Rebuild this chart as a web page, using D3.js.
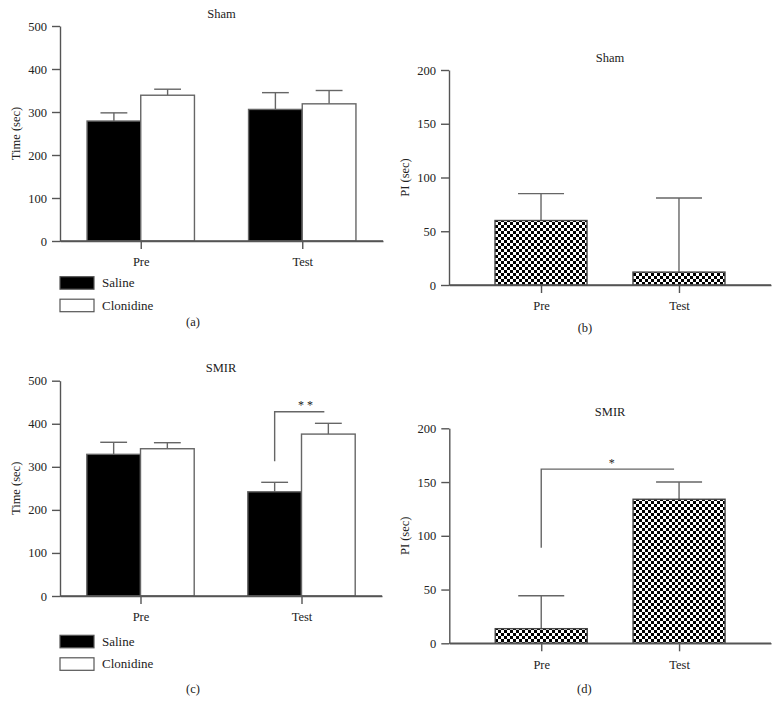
<!DOCTYPE html>
<html>
<head>
<meta charset="utf-8">
<script src="https://cdn.jsdelivr.net/npm/d3@7"></script>
<style>
  body { margin: 0; background: #fff; }
  svg { display: block; }
  text { font-family: "Liberation Serif", "DejaVu Serif", serif; fill: #222; }
</style>
</head>
<body>
<svg id="chart" width="780" height="715"></svg>
<script>
// ---- data ----
const groups = ["Pre", "Test"];
const series = ["Saline", "Clonidine"];
const timeTicks = [0, 100, 200, 300, 400, 500];
const piTicks = [0, 50, 100, 150, 200];

const shamSaline = [279, 306];
const shamSalineErr = [19, 39];
const shamClonidine = [339, 319];
const shamClonidineErr = [14, 31];

const smirSaline = [329, 242];
const smirSalineErr = [28, 22];
const smirClonidine = [342, 376];
const smirClonidineErr = [14, 25];

const shamPI = [60, 12];
const shamPIErr = [25, 69];
const smirPI = [13.6, 134];
const smirPIErr = [30.7, 16];

// ---- drawing ----
const svg = d3.select("#chart");
const defs = svg.append("defs");
const pat = defs.append("pattern").attr("id", "checker")
  .attr("patternUnits", "userSpaceOnUse").attr("width", 6).attr("height", 6);
pat.append("rect").attr("width", 6).attr("height", 6).attr("fill", "#fff");
pat.append("rect").attr("width", 3).attr("height", 3).attr("fill", "#000");
pat.append("rect").attr("x", 3).attr("y", 3).attr("width", 3).attr("height", 3).attr("fill", "#000");

const lineColor = "#555";
const fs = 12.5;

function axes(g, cfg, ticks, maxV) {
  const y = d3.scaleLinear().domain([0, maxV]).range([cfg.y0, cfg.y1]);
  const x = d3.scalePoint().domain(groups).range([cfg.x0, cfg.x1]).padding(cfg.pad);
  const ya = d3.axisLeft(y).tickValues(ticks).tickSize(8).tickSizeOuter(0).tickPadding(5);
  const yg = g.append("g").attr("transform", `translate(${cfg.x0},0)`).call(ya);
  const xa = d3.axisBottom(x).tickSize(8).tickSizeOuter(0).tickPadding(6);
  const xg = g.append("g").attr("transform", `translate(0,${cfg.y0})`).call(xa);
  [yg, xg].forEach(a => {
    a.select(".domain").attr("stroke", lineColor).attr("stroke-width", 1.4);
    a.selectAll(".tick line").attr("stroke", lineColor).attr("stroke-width", 1.4);
    a.selectAll(".tick text").attr("font-size", fs).attr("fill", "#222")
      .style("font-family", '"Liberation Serif", serif');
  });
  xg.selectAll(".tick text").attr("dy", "0.9em");
  g.append("text").attr("x", (cfg.x0 + cfg.x1) / 2).attr("y", cfg.titleY)
    .attr("text-anchor", "middle").attr("font-size", fs).text(cfg.title);
  g.append("text").attr("transform", `translate(${cfg.ylabX},${(cfg.y0 + cfg.y1) / 2}) rotate(-90)`)
    .attr("text-anchor", "middle").attr("font-size", fs).text(cfg.ylabel);
  g.append("text").attr("x", cfg.capX).attr("y", cfg.capY)
    .attr("text-anchor", "middle").attr("font-size", fs).text(cfg.caption);
  return { x, y };
}

function errBar(g, cx, vTop, vErr, capW, y) {
  g.append("line").attr("x1", cx).attr("x2", cx).attr("y1", y(vTop)).attr("y2", y(vTop + vErr))
    .attr("stroke", "#666").attr("stroke-width", 1.4);
  g.append("line").attr("x1", cx - capW / 2).attr("x2", cx + capW / 2)
    .attr("y1", y(vTop + vErr)).attr("y2", y(vTop + vErr))
    .attr("stroke", "#666").attr("stroke-width", 1.4);
}

function grouped(cfg, sal, salE, clo, cloE, sig) {
  const g = svg.append("g");
  const { x, y } = axes(g, cfg, timeTicks, 500);
  const bw = cfg.barW;
  const sub = d3.scaleBand().domain(series).range([-bw, bw]).padding(0);
  const vals = { Saline: [sal, salE], Clonidine: [clo, cloE] };
  series.forEach(s => {
    groups.forEach((grp, i) => {
      const v = vals[s][0][i], e = vals[s][1][i];
      const cx = x(grp) + sub(s) + sub.bandwidth() / 2;
      errBar(g, cx, v, e, bw / 2, y);
      g.append("rect").attr("x", x(grp) + sub(s)).attr("y", y(v))
        .attr("width", sub.bandwidth()).attr("height", y(0) - y(v))
        .attr("fill", s === "Saline" ? "#000" : "#fff")
        .attr("stroke", "#666").attr("stroke-width", 1.4);
    });
  });
  // redraw x axis line on top
  g.append("line").attr("x1", cfg.x0).attr("x2", cfg.x1).attr("y1", cfg.y0).attr("y2", cfg.y0)
    .attr("stroke", lineColor).attr("stroke-width", 1.4);
  // legend
  series.forEach((s, i) => {
    const ly = cfg.legY + i * 22.5;
    g.append("rect").attr("x", cfg.x0).attr("y", ly).attr("width", 34).attr("height", 12.5)
      .attr("fill", s === "Saline" ? "#000" : "#fff").attr("stroke", "#555").attr("stroke-width", 1.2);
    g.append("text").attr("x", cfg.x0 + 42).attr("y", ly + 10.5).attr("font-size", 13).text(s);
  });
  if (sig) {
    const xl = x("Test") + sub("Saline") + sub.bandwidth() / 2;
    const xr = x("Test") + sub("Clonidine") + sub.bandwidth() / 2 - 4;
    g.append("path")
      .attr("d", `M${xl},${y(sig.low)}V${y(sig.high)}H${xr}`)
      .attr("fill", "none").attr("stroke", "#666").attr("stroke-width", 1.4);
    g.append("text").attr("x", (xl + xr) / 2 + 6).attr("y", y(sig.high) - 3)
      .attr("text-anchor", "middle").attr("font-size", 12).attr("fill", "#444").text(sig.label);
  }
}

function single(cfg, vals, errs, sig) {
  const g = svg.append("g");
  const { x, y } = axes(g, cfg, piTicks, 200);
  const bw = cfg.barW;
  groups.forEach((grp, i) => {
    const v = vals[i], e = errs[i];
    errBar(g, x(grp), v, e, bw / 2, y);
    g.append("rect").attr("x", x(grp) - bw / 2).attr("y", y(v))
      .attr("width", bw).attr("height", y(0) - y(v))
      .attr("fill", "url(#checker)").attr("stroke", "#444").attr("stroke-width", 1.4);
  });
  g.append("line").attr("x1", cfg.x0).attr("x2", cfg.x1).attr("y1", cfg.y0).attr("y2", cfg.y0)
    .attr("stroke", lineColor).attr("stroke-width", 1.4);
  if (sig) {
    const xl = x("Pre");
    const xr = x("Test") - 5;
    g.append("path")
      .attr("d", `M${xl},${y(sig.low)}V${y(sig.high)}H${xr}`)
      .attr("fill", "none").attr("stroke", "#666").attr("stroke-width", 1.4);
    g.append("text").attr("x", (xl + xr) / 2 + 4).attr("y", y(sig.high) - 2)
      .attr("text-anchor", "middle").attr("font-size", 12).attr("fill", "#444").text(sig.label);
  }
}

grouped({ x0: 60, x1: 383, y0: 241, y1: 26, pad: 0.5, barW: 53.7, title: "Sham", titleY: 18,
  ylabel: "Time (sec)", ylabX: 20, caption: "(a)", capX: 193, capY: 326, legY: 276.7 },
  shamSaline, shamSalineErr, shamClonidine, shamClonidineErr, null);

single({ x0: 449, x1: 771, y0: 285, y1: 70, pad: 0.667, barW: 92, title: "Sham", titleY: 61.5,
  ylabel: "PI (sec)", ylabX: 409, caption: "(b)", capX: 585, capY: 332 },
  shamPI, shamPIErr, null);

grouped({ x0: 60, x1: 382, y0: 596, y1: 380.7, pad: 0.5, barW: 53.7, title: "SMIR", titleY: 372,
  ylabel: "Time (sec)", ylabX: 19.5, caption: "(c)", capX: 193, capY: 692.5, legY: 635.3 },
  smirSaline, smirSalineErr, smirClonidine, smirClonidineErr, { low: 313, high: 428, label: "* *" });

single({ x0: 449.3, x1: 771, y0: 643.3, y1: 428.3, pad: 0.667, barW: 92, title: "SMIR", titleY: 416,
  ylabel: "PI (sec)", ylabX: 409, caption: "(d)", capX: 584.3, capY: 692.5 },
  smirPI, smirPIErr, { low: 89, high: 162, label: "*" });
</script>
</body>
</html>
